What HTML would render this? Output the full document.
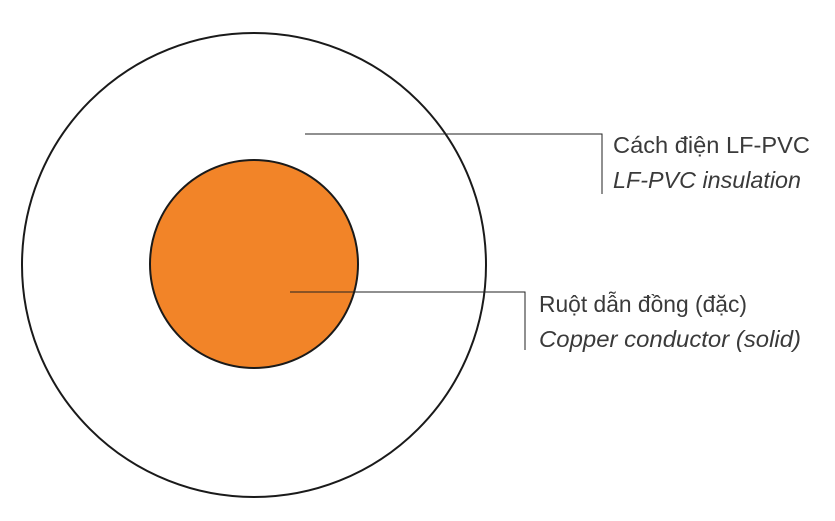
<!DOCTYPE html>
<html><head><meta charset="utf-8"><style>
html,body{margin:0;padding:0;background:#fff;}
svg{display:block}
text{font-family:"Liberation Sans",sans-serif;font-size:23px;fill:#3a3a3a;}
</style></head><body>
<svg width="835" height="521" viewBox="0 0 835 521">
<circle cx="254" cy="265" r="232" fill="#fff" stroke="#1a1a1a" stroke-width="2"/>
<circle cx="254" cy="264" r="104" fill="#f28428" stroke="#1a1a1a" stroke-width="2"/>
<polyline points="305,134 602,134 602,194" fill="none" stroke="#222" stroke-width="1"/>
<polyline points="290,292 525,292 525,350" fill="none" stroke="#222" stroke-width="1"/>
<text x="613" y="153" textLength="197" lengthAdjust="spacingAndGlyphs">Cách điện LF-PVC</text>
<text x="613" y="188" font-style="italic" textLength="188" lengthAdjust="spacingAndGlyphs">LF-PVC insulation</text>
<text x="539" y="312" textLength="208" lengthAdjust="spacingAndGlyphs">Ruột dẫn đồng (đặc)</text>
<text x="539" y="347" font-style="italic" textLength="262" lengthAdjust="spacingAndGlyphs">Copper conductor (solid)</text>
</svg>
</body></html>
